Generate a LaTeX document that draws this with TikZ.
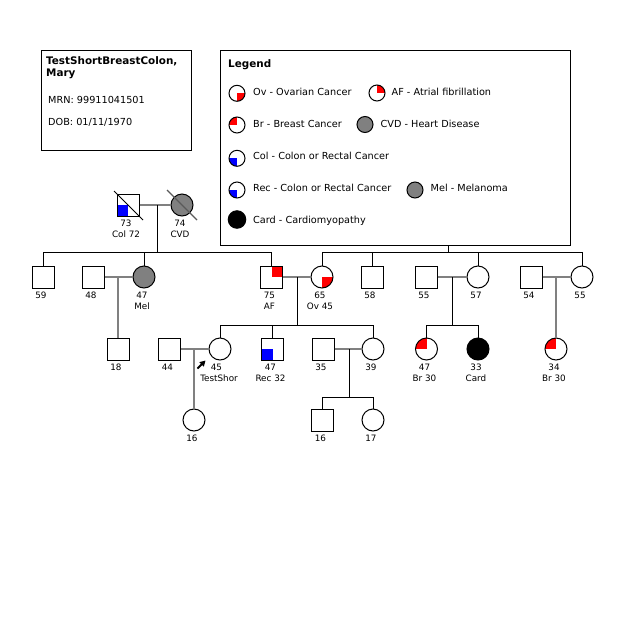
\documentclass[tikz,border=0pt]{standalone}
\usepackage{fontspec}
\setmainfont{DejaVu Sans}
\usetikzlibrary{calc,arrows.meta}
\definecolor{pgray}{RGB}{128,128,128}
\definecolor{slashgray}{RGB}{90,90,90}
\tikzset{
  sym/.style={draw=black, line width=1pt, inner sep=0pt, minimum size=22pt},
  male/.style={sym, rectangle},
  female/.style={sym, circle},
  qTR/.style={path picture={\fill[#1] (path picture bounding box.center) rectangle (path picture bounding box.north east);}},
  qTL/.style={path picture={\fill[#1] (path picture bounding box.center) rectangle (path picture bounding box.north west);}},
  qBR/.style={path picture={\fill[#1] (path picture bounding box.center) rectangle (path picture bounding box.south east);}},
  qBL/.style={path picture={\fill[#1] (path picture bounding box.center) rectangle (path picture bounding box.south west);}},
  couple/.style={draw=pgray, line width=2pt},
  kin/.style={draw=black, line width=1pt},
  kingray/.style={draw=pgray, line width=2pt},
  lbl/.style={font=\fontsize{8.8}{9.5}\selectfont, inner sep=0pt, anchor=base},
  txt/.style={font=\fontsize{9.7}{11}\selectfont, inner sep=0pt, anchor=base west},
  btxt/.style={font=\bfseries\fontsize{10.4}{12}\selectfont, inner sep=0pt, anchor=base west},
  lsym/.style={draw=black, line width=1pt, circle, inner sep=0pt, minimum size=16pt},
  boxstyle/.style={draw=black, line width=1pt, fill=white, inner sep=0pt, anchor=north west},
}
\newcommand{\agelab}[2]{\node[lbl] (#1a) at ($(#1)+(-2,21.5)$) {#2};}
\newcommand{\agelabb}[3]{\node[lbl] (#1a) at ($(#1)+(-2,21.5)$) {#2};\node[lbl] (#1b) at ($(#1)+(-2,32.5)$) {#3};}
\begin{document}
\begin{tikzpicture}[x=1pt, y=-1pt]
\useasboundingbox[fill=white] (0,0) rectangle (625,625);

% ---------- symbols ----------
% generation I
\node[male, qBL=blue] (I1) at (128,205) {};
\node[female, fill=pgray] (I2) at (182,205) {};
% generation II
\node[male] (II1) at (43,277) {};
\node[male] (II2) at (93,277) {};
\node[female, fill=pgray] (II3) at (144,277) {};
\node[male, qTR=red] (II4) at (271.5,277) {};
\node[female, qBR=red] (II5) at (322,277) {};
\node[male] (II6) at (372,277) {};
\node[male] (II7) at (426,277) {};
\node[female] (II8) at (478,277) {};
\node[male] (II9) at (531,277) {};
\node[female] (II10) at (582,277) {};
% generation III
\node[male] (III1) at (118,349) {};
\node[male] (III2) at (169.5,349) {};
\node[female] (III3) at (220,349) {};
\node[male, qBL=blue] (III4) at (272.5,349) {};
\node[male] (III5) at (323,349) {};
\node[female] (III6) at (373,349) {};
\node[female, qTL=red] (III7) at (426.5,349) {};
\node[female, fill=black] (III8) at (478,349) {};
\node[female, qTL=red] (III9) at (556,349) {};
% generation IV
\node[female] (IV1) at (194,420) {};
\node[male] (IV2) at (322.5,420) {};
\node[female] (IV3) at (373,420) {};

% deceased slashes
\draw[line width=1pt, black] (114,191) -- (143,220);
\draw[line width=1.2pt, slashgray] (167,190) -- (197,220);

% ---------- connectors ----------
\coordinate (m1) at (157,205);
\coordinate (s1) at (157,252);
\draw[couple] (I1.east) -- (I2.west);
\draw[kin] (m1) -- (s1);
\draw[kin] (II1.north) -- (II1 |- s1) -- (II4 |- s1) -- (II4.north);
\draw[kin] (II3.north) -- (II3 |- s1);

\coordinate (p2) at (448,150);
\draw[kin] (p2) -- (p2 |- s1);
\draw[kin] (II5.north) -- (II5 |- s1) -- (II10 |- s1) -- (II10.north);
\draw[kin] (II6.north) -- (II6 |- s1);
\draw[kin] (II8.north) -- (II8 |- s1);

\draw[couple] (II2.east) -- (II3.west);
\coordinate (m2) at (118,277);
\draw[kingray] (m2) -- (III1.north);

\draw[couple] (II4.east) -- (II5.west);
\coordinate (m3) at (297,277);
\coordinate (s3) at (297,325);
\draw[kin] (m3) -- (s3);
\draw[kin] (III3.north) -- (III3 |- s3) -- (III6 |- s3) -- (III6.north);
\draw[kin] (III4.north) -- (III4 |- s3);

\draw[couple] (II7.east) -- (II8.west);
\coordinate (m4) at (452,277);
\coordinate (s4) at (452,325);
\draw[kin] (m4) -- (s4);
\draw[kin] (III7.north) -- (III7 |- s4) -- (III8 |- s4) -- (III8.north);

\draw[couple] (II9.east) -- (II10.west);
\coordinate (m5) at (556,277);
\draw[kingray] (m5) -- (III9.north);

\draw[couple] (III2.east) -- (III3.west);
\coordinate (m6) at (194,349);
\draw[kingray] (m6) -- (IV1.north);

\draw[couple] (III5.east) -- (III6.west);
\coordinate (m7) at (349,349);
\coordinate (s7) at (349,397);
\draw[kin] (m7) -- (s7);
\draw[kin] (IV2.north) -- (IV2 |- s7) -- (IV3 |- s7) -- (IV3.north);

% proband arrow
\coordinate (pa) at (197.5,368.5);
\coordinate (pb) at (205.5,360.5);
\draw[line width=1.8pt, -{Triangle[length=5.5pt,width=6pt]}] (pa) -- (pb);

% ---------- labels ----------
\agelabb{I1}{73}{Col 72}
\agelabb{I2}{74}{CVD}
\agelab{II1}{59}
\agelab{II2}{48}
\agelabb{II3}{47}{Mel}
\agelabb{II4}{75}{AF}
\agelabb{II5}{65}{Ov 45}
\agelab{II6}{58}
\agelab{II7}{55}
\agelab{II8}{57}
\agelab{II9}{54}
\agelab{II10}{55}
\agelab{III1}{18}
\agelab{III2}{44}
\node[lbl] (III3a) at ($(III3)+(-3.5,21.5)$) {45};
\node[lbl] (III3b) at ($(III3)+(-1,32.5)$) {TestShor};
\agelabb{III4}{47}{Rec 32}
\agelab{III5}{35}
\agelab{III6}{39}
\agelabb{III7}{47}{Br 30}
\agelabb{III8}{33}{Card}
\agelabb{III9}{34}{Br 30}
\agelab{IV1}{16}
\agelab{IV2}{16}
\agelab{IV3}{17}

% ---------- info box ----------
\node[boxstyle, minimum width=150pt, minimum height=100pt] (info) at (41,50) {};
\node[btxt] (name1) at (46,64.3) {TestShortBreastColon,};
\node[btxt] (name2) at (46,76.5) {Mary};
\node[txt] (mrn) at (48,103.3) {MRN: 99911041501};
\node[txt] (dob) at (48,125.7) {DOB: 01/11/1970};

% ---------- legend ----------
\node[boxstyle, minimum width=350pt, minimum height=195pt] (legend) at (220,50) {};
\node[btxt] (legtitle) at (228,67) {Legend};
\node[lsym, qBR=red] (L1) at (237,93.3) {};
\node[txt] (L1t) at (253,95) {Ov - Ovarian Cancer};
\node[lsym, qTR=red] (L2) at (377,93) {};
\node[txt] (L2t) at (391.5,95) {AF - Atrial fibrillation};
\node[lsym, qTL=red] (L3) at (237,125) {};
\node[txt] (L3t) at (253,127.5) {Br - Breast Cancer};
\node[lsym, fill=pgray] (L4) at (365,124.5) {};
\node[txt] (L4t) at (380.5,127.5) {CVD - Heart Disease};
\node[lsym, qBL=blue] (L5) at (237,158.3) {};
\node[txt] (L5t) at (253,159.5) {Col - Colon or Rectal Cancer};
\node[lsym, qBL=blue] (L6) at (237,190) {};
\node[txt] (L6t) at (253,191.7) {Rec - Colon or Rectal Cancer};
\node[lsym, fill=pgray] (L7) at (415,190) {};
\node[txt] (L7t) at (430.5,191.7) {Mel - Melanoma};
\node[lsym, fill=black, minimum size=17.5pt] (L8) at (237,219.5) {};
\node[txt] (L8t) at (253,223.3) {Card - Cardiomyopathy};
\end{tikzpicture}
\end{document}
